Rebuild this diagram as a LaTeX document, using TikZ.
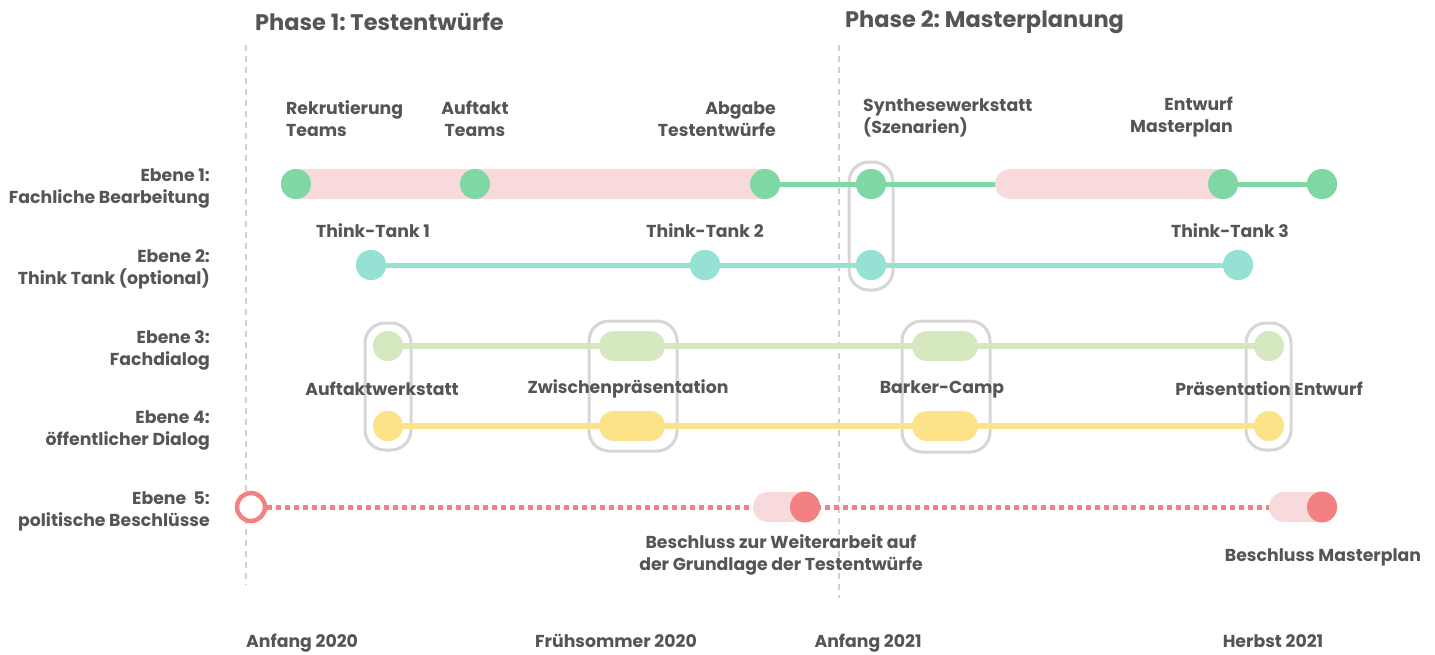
\documentclass[tikz,border=0pt]{standalone}
\usepackage{fontspec}
\setmainfont{Poppins}
\frenchspacing
\definecolor{txt}{HTML}{555555}
\definecolor{gdash}{HTML}{D0D0D0}
\definecolor{gbox}{HTML}{D6D6D6}
\definecolor{cgreen}{HTML}{7FD8A4}
\definecolor{cpink}{HTML}{F9DADC}
\definecolor{cteal}{HTML}{95E1D3}
\definecolor{clgreen}{HTML}{D5E8C0}
\definecolor{cyellow}{HTML}{FCE38A}
\definecolor{cred}{HTML}{F38181}
\begin{document}
\begin{tikzpicture}[x=1pt,y=-1pt,
  lbl/.style={text=txt,font=\bfseries\fontsize{17.3}{22}\selectfont,inner sep=0pt},
  lvl/.style={lbl,align=right,anchor=east},
  title/.style={text=txt,font=\bfseries\fontsize{22.5}{26}\selectfont,inner sep=0pt,anchor=west},
  dot/.style={circle,minimum size=30pt,inner sep=0pt,fill=#1},
  band/.style={line width=30pt,line cap=round,draw=cpink},
  track/.style={line width=5pt,draw=#1},
  grp/.style={draw=gbox,line width=3pt,rounded corners=20pt},
  phase/.style={draw=gdash,line width=2pt,dash pattern=on 6pt off 5pt}]
\useasboundingbox (0,0) rectangle (1435,654);
% phase lines
\coordinate (p1t) at (246,45); \coordinate (p1b) at (246,585);
\coordinate (p2t) at (839,45); \coordinate (p2b) at (839,598);
\draw[phase] (p1t) -- (p1b);
\draw[phase] (p2t) -- (p2b);
\node[title] (t1) at (255,22) {Phase 1: Testentwürfe};
\node[title] (t2) at (845,22) {Phase 2: Masterplanung};
% level labels
\node[lvl] (l1) at (210,188) {Ebene 1:\\Fachliche Bearbeitung};
\node[lvl] (l2) at (210,269) {Ebene 2:\\Think Tank (optional)};
\node[lvl] (l3) at (210,350) {Ebene 3:\\Fachdialog};
\node[lvl] (l4) at (210,430) {Ebene 4:\\öffentlicher Dialog};
\node[lvl] (l5) at (210,511) {Ebene \ 5:\\politische Beschlüsse};
% group boxes
\node[grp,minimum width=44pt,minimum height=128pt] (g0) at (871,226) {};
\node[grp,minimum width=46pt,minimum height=127pt] (g1) at (388,386.5) {};
\node[grp,minimum width=88pt,minimum height=130pt] (g2) at (633,386) {};
\node[grp,minimum width=88pt,minimum height=131pt] (g3) at (946,386.5) {};
\node[grp,minimum width=45pt,minimum height=127pt] (g4) at (1268.5,386.5) {};
% row 1
\coordinate (b2s) at (1010,184);
\node[dot=cgreen] (a1) at (296,184) {};
\node[dot=cgreen] (a2) at (475,184) {};
\node[dot=cgreen] (a3) at (765,184) {};
\node[dot=cgreen] (a4) at (871,184) {};
\node[dot=cgreen] (a5) at (1223,184) {};
\node[dot=cgreen] (a6) at (1322,184) {};
\draw[track=cgreen] (a3.center) -- (a6.center);
\draw[band] (a1.center) -- (a3.center);
\draw[band] (b2s) -- (a5.center);
\foreach \n in {a1,a2,a3,a4,a5,a6} \fill[cgreen] (\n) circle (15pt);
% row 2
\node[dot=cteal] (b1) at (371,265) {};
\node[dot=cteal] (b2) at (705,265) {};
\node[dot=cteal] (b3) at (871,265) {};
\node[dot=cteal] (b4) at (1238,265) {};
\draw[track=cteal] (b1.center) -- (b4.center);
\foreach \n in {b1,b2,b3,b4} \fill[cteal] (\n) circle (15pt);
% row 3
\coordinate (c2a) at (614,346); \coordinate (c2b) at (650,346);
\coordinate (c3a) at (927,346); \coordinate (c3b) at (963,346);
\node[dot=clgreen] (c1) at (388,346) {};
\node[dot=clgreen] (c4) at (1269,346) {};
\draw[line width=6pt,draw=clgreen] (c1.center) -- (c4.center);
\draw[line width=30pt,line cap=round,draw=clgreen] (c2a) -- (c2b);
\draw[line width=30pt,line cap=round,draw=clgreen] (c3a) -- (c3b);
\fill[clgreen] (c1) circle (15pt);
\fill[clgreen] (c4) ellipse (14pt and 15pt);
% row 4
\coordinate (d2a) at (614,426); \coordinate (d2b) at (650,426);
\coordinate (d3a) at (927,426); \coordinate (d3b) at (963,426);
\node[dot=cyellow] (d1) at (388,426) {};
\node[dot=cyellow] (d4) at (1269,426) {};
\draw[line width=6pt,draw=cyellow] (d1.center) -- (d4.center);
\draw[line width=30pt,line cap=round,draw=cyellow] (d2a) -- (d2b);
\draw[line width=30pt,line cap=round,draw=cyellow] (d3a) -- (d3b);
\fill[cyellow] (d1) circle (15pt);
\fill[cyellow] (d4) ellipse (14pt and 15pt);
% row 5
\node[circle,draw=cred,line width=4.5pt,fill=white,minimum size=28pt,inner sep=0pt] (e0) at (251,507) {};
\coordinate (e1a) at (768,507);
\node[dot=cred] (e1) at (805,507) {};
\coordinate (e2a) at (1284,507);
\node[dot=cred] (e2) at (1322,507) {};
\draw[line width=5pt,draw=cred,dash pattern=on 4.5pt off 4.5pt] (e0.east) -- (e2.center);
\draw[band] (e1a) -- (e1.center);
\draw[band] (e2a) -- (e2.center);
\fill[cred] (e1) ellipse (15pt and 15.5pt);
\fill[cred] (e2) ellipse (15pt and 15.5pt);
% top labels
\node[lbl,align=left,anchor=south west] (n1) at (286,137) {Rekrutierung\\Teams};
\node[lbl,align=center,anchor=south] (n2) at (475,137) {Auftakt\\Teams};
\node[lbl,align=right,anchor=south east] (n3) at (776,137) {Abgabe\\Testentwürfe};
\node[lbl,align=left,anchor=south west] (n4) at (863,137) {Synthesewerkstatt\\(Szenarien)};
\node[lbl,align=right,anchor=south east] (n5) at (1233,137) {Entwurf\\Masterplan};
% think tank labels
\node[lbl] (tt1) at (373,231) {Think-Tank 1};
\node[lbl] (tt2) at (705,231) {Think-Tank 2};
\node[lbl] (tt3) at (1230,231) {Think-Tank 3};
% dialog labels
\node[lbl] (w1) at (382,389) {Auftaktwerkstatt};
\node[lbl] (w2) at (628,389) {Zwischenpräsentation};
\node[lbl] (w3) at (942,389) {Barker-Camp};
\node[lbl] (w4) at (1269,389) {Präsentation Entwurf};
% decision labels
\node[lbl,align=center] (x1) at (781,555) {Beschluss zur Weiterarbeit auf\\der Grundlage der Testentwürfe};
\node[lbl] (x2) at (1323,557) {Beschluss Masterplan};
% time labels
\node[lbl,anchor=base west] (y1) at (246,647) {Anfang 2020};
\node[lbl,anchor=base] (y2) at (616,647) {Frühsommer 2020};
\node[lbl,anchor=base] (y3) at (868,647) {Anfang 2021};
\node[lbl,anchor=base] (y4) at (1273,647) {Herbst 2021};
\end{tikzpicture}
\end{document}
